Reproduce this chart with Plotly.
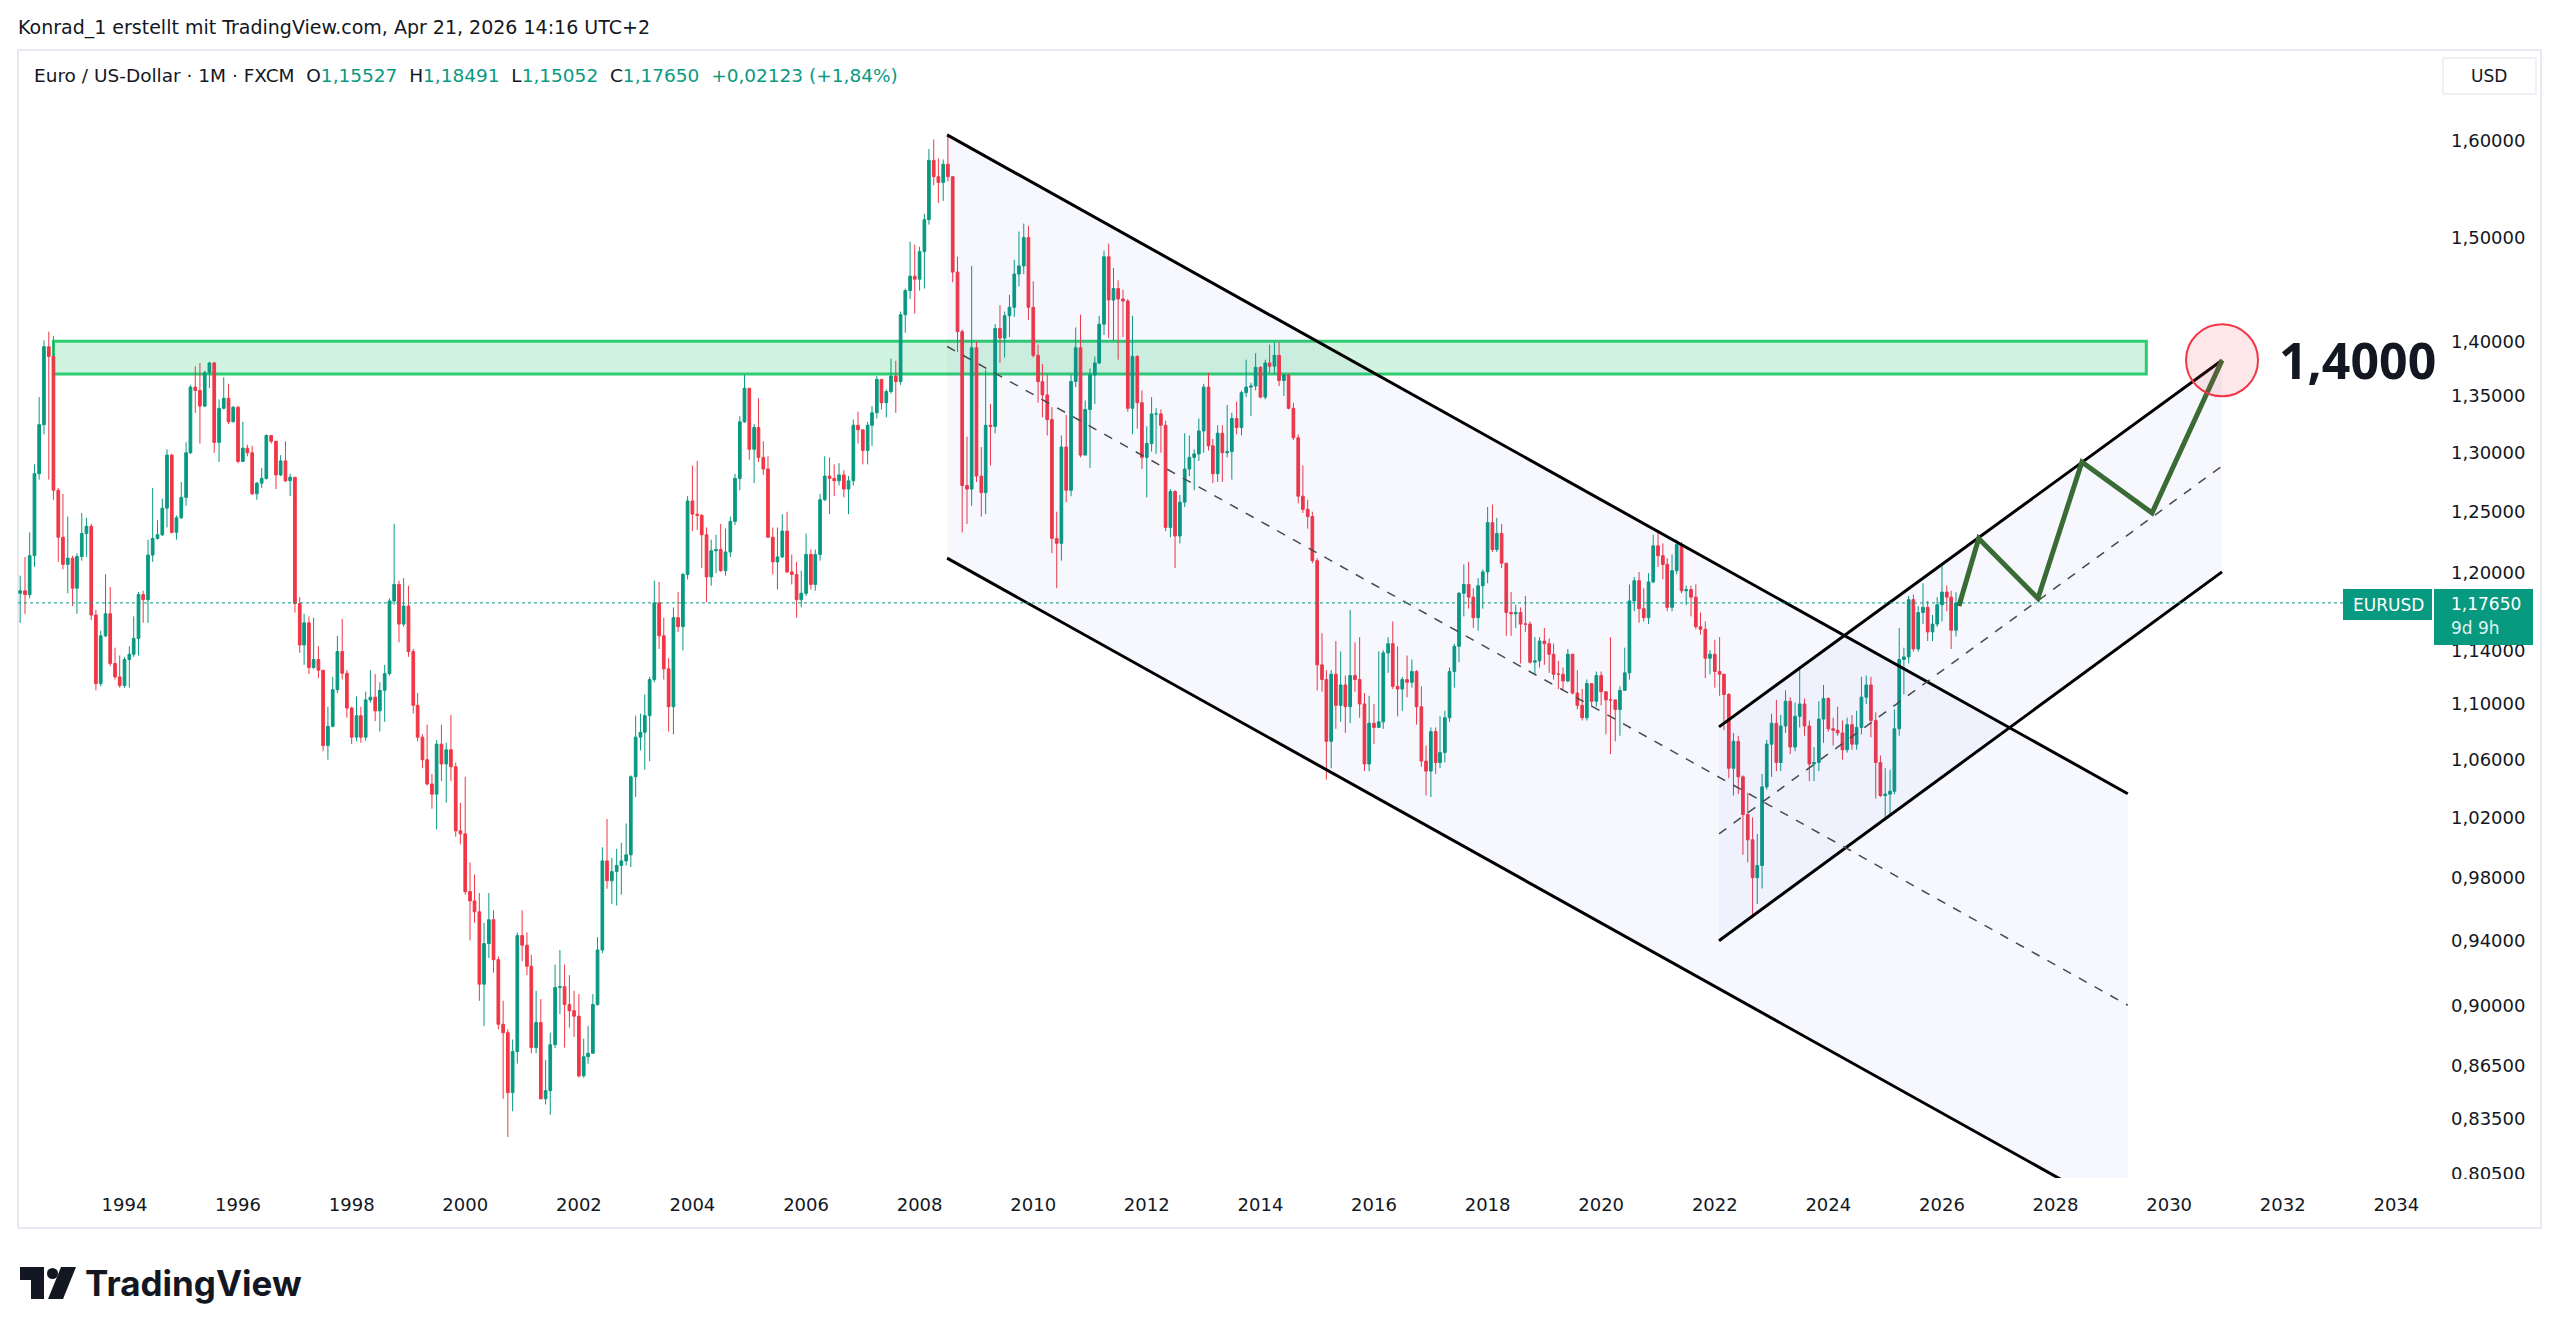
import math
import pandas as pd
import plotly.graph_objects as go

# ---------------- data (monthly EURUSD, FXCM) ----------------
start_month = "1992-03-01"
first_open = 1.184
closes = [
    1.186, 1.183, 1.214, 1.282, 1.3245, 1.395, 1.386, 1.268, 1.229, 1.207,
    1.212, 1.188, 1.2133, 1.232, 1.238, 1.167, 1.115, 1.151, 1.168, 1.130, 1.120, 1.1135,
    1.133, 1.137, 1.149, 1.183, 1.179, 1.2145, 1.228, 1.231, 1.253, 1.298, 1.233, 1.245,
    1.262, 1.300, 1.358, 1.355, 1.341, 1.371, 1.380, 1.309, 1.339, 1.348, 1.327, 1.340,
    1.2925, 1.304, 1.300, 1.265, 1.274, 1.278, 1.315, 1.310, 1.281, 1.293, 1.276, 1.279,
    1.176, 1.144, 1.161, 1.127, 1.133, 1.125, 1.070, 1.0838, 1.1105, 1.139, 1.1227, 1.097,
    1.076, 1.0915, 1.076, 1.103, 1.105, 1.095, 1.110, 1.1224, 1.178, 1.191, 1.160, 1.174,
    1.139, 1.099, 1.076, 1.060, 1.043, 1.036, 1.071, 1.057, 1.067, 1.055, 1.011, 1.009,
    0.971, 0.965, 0.958, 0.913, 0.938, 0.953, 0.928, 0.889, 0.884, 0.8495, 0.873, 0.943,
    0.937, 0.924, 0.8753, 0.890, 0.846, 0.8506, 0.877, 0.911, 0.9115, 0.9007, 0.897, 0.8938,
    0.859, 0.870, 0.872, 0.9007, 0.934, 0.991, 0.978, 0.984, 0.988, 0.991, 0.995, 1.048,
    1.076, 1.0795, 1.0915, 1.118, 1.1765, 1.151, 1.126, 1.098, 1.165, 1.158, 1.199, 1.259,
    1.248, 1.247, 1.231, 1.197, 1.218, 1.219, 1.202, 1.217, 1.242, 1.278, 1.327, 1.357,
    1.303, 1.322, 1.296, 1.286, 1.229, 1.209, 1.213, 1.234, 1.201, 1.199, 1.179, 1.184,
    1.215, 1.191, 1.215, 1.260, 1.280, 1.278, 1.276, 1.281, 1.269, 1.276, 1.324, 1.320,
    1.302, 1.324, 1.335, 1.365, 1.344, 1.354, 1.368, 1.363, 1.425, 1.448, 1.462, 1.459,
    1.486, 1.518, 1.579, 1.562, 1.556, 1.575, 1.562, 1.466, 1.409, 1.272, 1.269, 1.394,
    1.280, 1.266, 1.324, 1.323, 1.412, 1.403, 1.424, 1.432, 1.464, 1.472, 1.500, 1.432,
    1.387, 1.363, 1.351, 1.329, 1.228, 1.224, 1.305, 1.268, 1.363, 1.394, 1.298, 1.338,
    1.369, 1.380, 1.416, 1.481, 1.439, 1.450, 1.440, 1.438, 1.339, 1.386, 1.344, 1.296,
    1.308, 1.334, 1.334, 1.324, 1.237, 1.267, 1.230, 1.258, 1.286, 1.296, 1.299, 1.319,
    1.358, 1.306, 1.282, 1.317, 1.300, 1.301, 1.330, 1.322, 1.353, 1.358, 1.359, 1.376,
    1.349, 1.380, 1.377, 1.387, 1.364, 1.369, 1.339, 1.313, 1.263, 1.252, 1.246, 1.210,
    1.129, 1.118, 1.073, 1.122, 1.099, 1.114, 1.098, 1.121, 1.118, 1.100, 1.057, 1.086,
    1.083, 1.087, 1.138, 1.145, 1.113, 1.111, 1.118, 1.116, 1.124, 1.098, 1.059, 1.052,
    1.080, 1.058, 1.065, 1.090, 1.124, 1.143, 1.184, 1.191, 1.181, 1.165, 1.190, 1.201,
    1.241, 1.219, 1.232, 1.208, 1.169, 1.168, 1.169, 1.160, 1.160, 1.131, 1.132, 1.147,
    1.145, 1.137, 1.122, 1.122, 1.117, 1.137, 1.108, 1.099, 1.090, 1.115, 1.102, 1.121,
    1.109, 1.103, 1.103, 1.096, 1.110, 1.123, 1.178, 1.194, 1.172, 1.165, 1.193, 1.222,
    1.214, 1.207, 1.173, 1.202, 1.223, 1.186, 1.187, 1.181, 1.158, 1.156, 1.134, 1.137,
    1.124, 1.122, 1.107, 1.054, 1.073, 1.048, 1.022, 1.005, 0.980, 0.988, 1.041, 1.071,
    1.086, 1.058, 1.084, 1.102, 1.069, 1.091, 1.100, 1.084, 1.057, 1.058, 1.089, 1.104,
    1.082, 1.081, 1.079, 1.067, 1.085, 1.071, 1.083, 1.105, 1.114, 1.088, 1.058, 1.035,
    1.036, 1.038, 1.082, 1.133, 1.135, 1.179, 1.141, 1.169, 1.173, 1.154, 1.160, 1.175,
    1.185, 1.181, 1.1553, 1.1765,
]
highs = [
    1.198, 1.213, 1.233, 1.290, 1.349, 1.401, 1.409, 1.405, 1.270, 1.265,
    1.246, 1.214, 1.216, 1.249, 1.245, 1.240, 1.171, 1.155, 1.199, 1.189, 1.142, 1.136,
    1.135, 1.143, 1.166, 1.185, 1.186, 1.227, 1.270, 1.243, 1.261, 1.303, 1.299, 1.247,
    1.275, 1.309, 1.360, 1.377, 1.380, 1.373, 1.381, 1.381, 1.347, 1.367, 1.361, 1.341,
    1.341, 1.327, 1.307, 1.306, 1.275, 1.287, 1.316, 1.315, 1.310, 1.298, 1.310, 1.282,
    1.279, 1.181, 1.168, 1.166, 1.165, 1.143, 1.125, 1.098, 1.120, 1.151, 1.164, 1.125,
    1.098, 1.1055, 1.098, 1.109, 1.125, 1.122, 1.116, 1.129, 1.180, 1.240, 1.194, 1.196,
    1.190, 1.141, 1.108, 1.078, 1.085, 1.050, 1.074, 1.085, 1.072, 1.092, 1.058, 1.030,
    1.048, 0.990, 0.982, 0.970, 0.951, 0.970, 0.959, 0.930, 0.903, 0.886, 0.880, 0.945,
    0.959, 0.945, 0.931, 0.909, 0.904, 0.868, 0.884, 0.925, 0.934, 0.925, 0.9185, 0.909,
    0.907, 0.8805, 0.888, 0.907, 0.942, 1.000, 1.019, 0.993, 0.999, 1.003, 1.016, 1.049,
    1.0915, 1.093, 1.107, 1.120, 1.194, 1.193, 1.165, 1.134, 1.173, 1.185, 1.200, 1.263,
    1.289, 1.293, 1.248, 1.237, 1.227, 1.231, 1.240, 1.236, 1.246, 1.282, 1.332, 1.369,
    1.357, 1.325, 1.348, 1.310, 1.297, 1.237, 1.237, 1.248, 1.250, 1.215, 1.209, 1.202,
    1.232, 1.219, 1.219, 1.265, 1.297, 1.296, 1.290, 1.291, 1.285, 1.280, 1.329, 1.336,
    1.320, 1.327, 1.341, 1.368, 1.365, 1.356, 1.384, 1.382, 1.428, 1.450, 1.496, 1.493,
    1.491, 1.524, 1.591, 1.601, 1.581, 1.580, 1.604, 1.562, 1.481, 1.411, 1.314, 1.472,
    1.400, 1.305, 1.374, 1.343, 1.416, 1.434, 1.428, 1.444, 1.478, 1.506, 1.514, 1.512,
    1.457, 1.397, 1.379, 1.369, 1.340, 1.250, 1.315, 1.333, 1.369, 1.413, 1.425, 1.346,
    1.375, 1.386, 1.424, 1.487, 1.494, 1.470, 1.458, 1.449, 1.440, 1.424, 1.387, 1.355,
    1.323, 1.349, 1.339, 1.338, 1.328, 1.269, 1.268, 1.264, 1.317, 1.315, 1.303, 1.330,
    1.361, 1.371, 1.312, 1.324, 1.324, 1.342, 1.335, 1.345, 1.355, 1.383, 1.362, 1.389,
    1.377, 1.383, 1.397, 1.399, 1.399, 1.370, 1.370, 1.344, 1.316, 1.289, 1.260, 1.250,
    1.212, 1.153, 1.125, 1.125, 1.147, 1.139, 1.121, 1.171, 1.146, 1.150, 1.108, 1.106,
    1.100, 1.139, 1.140, 1.150, 1.162, 1.143, 1.120, 1.136, 1.133, 1.125, 1.113, 1.070,
    1.083, 1.083, 1.091, 1.095, 1.127, 1.145, 1.185, 1.207, 1.209, 1.188, 1.196, 1.203,
    1.254, 1.256, 1.245, 1.240, 1.208, 1.185, 1.175, 1.173, 1.182, 1.162, 1.150, 1.150,
    1.157, 1.149, 1.145, 1.132, 1.127, 1.141, 1.129, 1.125, 1.111, 1.118, 1.110, 1.124,
    1.124, 1.105, 1.150, 1.102, 1.113, 1.142, 1.191, 1.197, 1.201, 1.188, 1.200, 1.231,
    1.235, 1.224, 1.212, 1.215, 1.227, 1.225, 1.190, 1.190, 1.191, 1.169, 1.162, 1.140,
    1.148, 1.150, 1.118, 1.108, 1.079, 1.077, 1.049, 1.037, 1.020, 1.009, 1.050, 1.074,
    1.093, 1.103, 1.092, 1.110, 1.105, 1.101, 1.128, 1.104, 1.088, 1.069, 1.102, 1.114,
    1.105, 1.090, 1.098, 1.088, 1.090, 1.092, 1.095, 1.120, 1.121, 1.120, 1.094, 1.063,
    1.054, 1.053, 1.096, 1.157, 1.142, 1.182, 1.183, 1.174, 1.192, 1.178, 1.167, 1.181,
    1.208, 1.190, 1.186, 1.18491,
]
lows = [
    1.161, 1.168, 1.180, 1.205, 1.277, 1.316, 1.277, 1.260, 1.209, 1.203,
    1.184, 1.174, 1.168, 1.210, 1.213, 1.163, 1.110, 1.113, 1.150, 1.128, 1.118, 1.112,
    1.112, 1.112, 1.135, 1.136, 1.161, 1.161, 1.209, 1.227, 1.230, 1.237, 1.232, 1.227,
    1.244, 1.255, 1.299, 1.335, 1.308, 1.340, 1.357, 1.300, 1.292, 1.338, 1.325, 1.327,
    1.291, 1.292, 1.297, 1.264, 1.260, 1.270, 1.277, 1.308, 1.269, 1.280, 1.275, 1.263,
    1.169, 1.138, 1.129, 1.122, 1.126, 1.119, 1.066, 1.060, 1.083, 1.108, 1.118, 1.090,
    1.071, 1.073, 1.072, 1.0735, 1.101, 1.0875, 1.080, 1.087, 1.121, 1.175, 1.146, 1.158,
    1.135, 1.093, 1.073, 1.054, 1.042, 1.026, 1.012, 1.045, 1.030, 1.045, 1.007, 1.002,
    0.969, 0.940, 0.951, 0.903, 0.888, 0.929, 0.920, 0.886, 0.846, 0.8248, 0.839, 0.866,
    0.927, 0.9185, 0.872, 0.872, 0.8457, 0.8428, 0.837, 0.875, 0.895, 0.8753, 0.887, 0.8815,
    0.858, 0.858, 0.866, 0.872, 0.900, 0.932, 0.9728, 0.963, 0.962, 0.969, 0.988, 0.987,
    1.034, 1.0665, 1.053, 1.059, 1.116, 1.141, 1.118, 1.080, 1.078, 1.154, 1.140, 1.195,
    1.234, 1.235, 1.204, 1.177, 1.190, 1.200, 1.201, 1.198, 1.213, 1.239, 1.268, 1.326,
    1.294, 1.274, 1.292, 1.281, 1.229, 1.199, 1.187, 1.212, 1.200, 1.191, 1.165, 1.173,
    1.182, 1.187, 1.186, 1.210, 1.259, 1.248, 1.263, 1.272, 1.262, 1.248, 1.272, 1.308,
    1.290, 1.290, 1.306, 1.330, 1.338, 1.331, 1.352, 1.335, 1.360, 1.408, 1.440, 1.426,
    1.448, 1.450, 1.513, 1.553, 1.535, 1.537, 1.557, 1.456, 1.390, 1.233, 1.240, 1.255,
    1.275, 1.246, 1.248, 1.289, 1.317, 1.380, 1.385, 1.404, 1.423, 1.452, 1.464, 1.420,
    1.385, 1.344, 1.331, 1.315, 1.216, 1.188, 1.210, 1.258, 1.263, 1.358, 1.296, 1.303,
    1.287, 1.343, 1.379, 1.406, 1.403, 1.401, 1.383, 1.404, 1.336, 1.316, 1.321, 1.286,
    1.262, 1.301, 1.299, 1.300, 1.234, 1.229, 1.204, 1.224, 1.254, 1.280, 1.268, 1.293,
    1.300, 1.302, 1.274, 1.275, 1.275, 1.296, 1.277, 1.316, 1.315, 1.349, 1.332, 1.355,
    1.348, 1.347, 1.371, 1.370, 1.359, 1.350, 1.338, 1.311, 1.257, 1.249, 1.236, 1.208,
    1.110, 1.109, 1.046, 1.054, 1.082, 1.087, 1.079, 1.086, 1.109, 1.090, 1.052, 1.052,
    1.071, 1.084, 1.082, 1.123, 1.111, 1.091, 1.095, 1.105, 1.112, 1.085, 1.055, 1.035,
    1.034, 1.050, 1.054, 1.058, 1.087, 1.112, 1.131, 1.166, 1.172, 1.157, 1.155, 1.172,
    1.192, 1.217, 1.217, 1.204, 1.151, 1.151, 1.157, 1.130, 1.154, 1.130, 1.122, 1.127,
    1.129, 1.123, 1.118, 1.111, 1.111, 1.116, 1.107, 1.096, 1.088, 1.088, 1.098, 1.098,
    1.099, 1.078, 1.064, 1.073, 1.077, 1.110, 1.118, 1.170, 1.161, 1.162, 1.160, 1.192,
    1.205, 1.195, 1.170, 1.170, 1.199, 1.184, 1.175, 1.166, 1.156, 1.152, 1.119, 1.122,
    1.112, 1.106, 1.081, 1.047, 1.035, 1.036, 0.995, 0.990, 0.954, 0.963, 0.973, 1.039,
    1.048, 1.052, 1.052, 1.079, 1.064, 1.066, 1.083, 1.077, 1.045, 1.045, 1.052, 1.072,
    1.080, 1.070, 1.077, 1.060, 1.065, 1.067, 1.067, 1.078, 1.100, 1.076, 1.033, 1.034,
    1.018, 1.021, 1.036, 1.077, 1.107, 1.130, 1.139, 1.139, 1.160, 1.147, 1.147, 1.158,
    1.162, 1.170, 1.141, 1.15052,
]

y_tick_vals = [1.60, 1.50, 1.40, 1.35, 1.30, 1.25, 1.20, 1.14, 1.10, 1.06, 1.02,
               0.98, 0.94, 0.90, 0.865, 0.835, 0.805]
y_tick_text = ["1,60000", "1,50000", "1,40000", "1,35000", "1,30000", "1,25000",
               "1,20000", "1,14000", "1,10000", "1,06000", "1,02000", "0,98000",
               "0,94000", "0,90000", "0,86500", "0,83500", "0,80500"]
x_tick_years = list(range(1994, 2035, 2))

zone_dates = ["1992-10-01", "2029-08-07"]
zone_prices = [1.370, 1.400]

desc_dates = ["2008-06-26", "2029-04-10"]
desc_upper = [1.606, 1.0363]
desc_lower = [1.212, 0.7822]
desc_mid = [1.3952, 0.9003]

asc_dates = ["2022-01-28", "2030-12-07"]
asc_upper = [1.0834, 1.3825]
asc_lower = [0.9398, 1.201]
asc_mid = [1.009, 1.2886]

path_dates = ["2026-04-20", "2026-08-25", "2027-09-10", "2028-06-19", "2029-09-13", "2030-12-07"]
path_prices = [1.174, 1.228, 1.180, 1.292, 1.249, 1.3825]

target_date, target_price, target_label = "2030-12-07", 1.3825, "1,4000"
last_price, last_price_text, countdown_text = 1.1765, "1,17650", "9d 9h"
symbol_text = "EURUSD"
header_text = "Konrad_1 erstellt mit TradingView.com, Apr 21, 2026 14:16 UTC+2"
title_text = "Euro / US-Dollar · 1M · FXCM"
ohlc_labels = ["O", "H", "L", "C"]
ohlc_values = ["1,15527", "1,18491", "1,15052", "1,17650"]
change_text = "+0,02123 (+1,84%)"

# ---------------- layout geometry ----------------
W, H = 2560, 1335
PL, PR, PT, PB = 18, 2436, 52, 1178
UP, DN, TEAL = "#089981", "#F23645", "#089981"
TXT = "#131722"
UI_FONT = "DejaVu Sans"


def px(x):
    return (x - PL) / (PR - PL)


def py(y):
    return (PB - y) / (PB - PT)


dates = pd.date_range(start_month, periods=len(closes), freq="MS")
opens = [first_open] + closes[:-1]

fig = go.Figure()

chan_fill = "rgba(70,90,230,0.045)"
for d, u, l in [(desc_dates, desc_upper, desc_lower), (asc_dates, asc_upper, asc_lower)]:
    fig.add_trace(go.Scatter(
        x=[d[0], d[1], d[1], d[0], d[0]], y=[u[0], u[1], l[1], l[0], u[0]],
        mode="none", fill="toself", fillcolor=chan_fill, hoverinfo="skip", showlegend=False))

fig.add_trace(go.Candlestick(
    x=dates, open=opens, high=highs, low=lows, close=closes,
    increasing=dict(line=dict(color=UP, width=1), fillcolor=UP),
    decreasing=dict(line=dict(color=DN, width=1), fillcolor=DN),
    whiskerwidth=0, showlegend=False, hoverinfo="skip"))

for d, ys in [(desc_dates, desc_upper), (desc_dates, desc_lower), (asc_dates, asc_upper), (asc_dates, asc_lower)]:
    fig.add_trace(go.Scatter(x=d, y=ys, mode="lines", line=dict(color="#000000", width=3),
                             hoverinfo="skip", showlegend=False))
for d, ys in [(desc_dates, desc_mid), (asc_dates, asc_mid)]:
    fig.add_trace(go.Scatter(x=d, y=ys, mode="lines", line=dict(color="#4a4a4a", width=1.5, dash="dash"),
                             hoverinfo="skip", showlegend=False))

fig.add_trace(go.Scatter(x=path_dates, y=path_prices, mode="lines",
                         line=dict(color="#3a6b35", width=5), hoverinfo="skip", showlegend=False))

# target circle (marker sized in pixels)
fig.add_trace(go.Scatter(x=[target_date], y=[target_price], mode="markers",
                         marker=dict(symbol="circle", size=72, color="rgba(242,54,69,0.12)",
                                     line=dict(color="#F23645", width=2)),
                         hoverinfo="skip", showlegend=False, cliponaxis=False))

shapes = []
shapes.append(dict(type="rect", xref="paper", yref="paper", x0=px(18), x1=px(2541), y0=py(50), y1=py(1228),
                   line=dict(color="#e0e3eb", width=1.5), fillcolor="rgba(0,0,0,0)", layer="below"))
shapes.append(dict(type="rect", xref="x", yref="y", x0=zone_dates[0], x1=zone_dates[1],
                   y0=zone_prices[0], y1=zone_prices[1], fillcolor="rgba(46,204,113,0.22)",
                   line=dict(color="#2ecc71", width=3), layer="below"))
shapes.append(dict(type="line", xref="paper", yref="y", x0=0, x1=px(2343), y0=last_price, y1=last_price,
                   line=dict(color=TEAL, width=1, dash="dot"), layer="above"))
shapes.append(dict(type="rect", xref="paper", yref="paper", x0=px(2437), x1=px(2540), y0=py(1196), y1=py(1179),
                   fillcolor="white", line=dict(width=0), layer="above"))
shapes.append(dict(type="rect", xref="paper", yref="paper", x0=px(2343), x1=px(2432), y0=py(620), y1=py(589),
                   fillcolor=TEAL, line=dict(width=0), layer="above"))
shapes.append(dict(type="rect", xref="paper", yref="paper", x0=px(2434), x1=px(2533), y0=py(645), y1=py(589),
                   fillcolor=TEAL, line=dict(width=0), layer="above"))
shapes.append(dict(type="rect", xref="paper", yref="paper", x0=px(2443), x1=px(2536), y0=py(94), y1=py(58),
                   fillcolor="white", line=dict(color="#e0e3eb", width=1), layer="above"))
# TradingView logo icon
shapes.append(dict(type="rect", xref="paper", yref="paper", x0=px(20), x1=px(44), y0=py(1280), y1=py(1267),
                   fillcolor=TXT, line=dict(width=0), layer="above"))
shapes.append(dict(type="rect", xref="paper", yref="paper", x0=px(31), x1=px(44), y0=py(1299), y1=py(1267),
                   fillcolor=TXT, line=dict(width=0), layer="above"))
shapes.append(dict(type="circle", xref="paper", yref="paper", x0=px(47), x1=px(58), y0=py(1279), y1=py(1268),
                   fillcolor=TXT, line=dict(width=0), layer="above"))
shapes.append(dict(type="path", xref="paper", yref="paper",
                   path=f"M {px(61)},{py(1267)} L {px(76)},{py(1267)} L {px(63)},{py(1299)} L {px(48)},{py(1299)} Z",
                   fillcolor=TXT, line=dict(width=0), layer="above"))

annotations = []


def ann(x, y, text, size=17, color=TXT, xanchor="left", family=UI_FONT):
    annotations.append(dict(xref="paper", yref="paper", x=px(x), y=py(y), text=text, showarrow=False,
                            xanchor=xanchor, yanchor="middle", font=dict(family=family, size=size, color=color)))


nb = "\u00a0"
legend = title_text + nb * 2
for lab, val in zip(ohlc_labels, ohlc_values):
    legend += f"{lab}<span style='color:{TEAL}'>{val}</span>{nb * 2}"
legend += f"<span style='color:{TEAL}'>{change_text}</span>"

ann(16, 28, header_text, size=19)
ann(32, 75, legend, size=18.5)
ann(2489, 76, "USD", size=17, xanchor="center")
ann(2277, 360, f"<b>{target_label}</b>", size=50, family="Noto Sans")
ann(2388, 605, symbol_text, size=17, color="white", xanchor="center")
ann(2449, 604, last_price_text, size=17, color="white")
ann(2449, 628, countdown_text, size=17, color="rgba(255,255,255,0.9)")
ann(83, 1283, "<b>TradingView</b>", size=35, family="Inter")

fig.update_layout(
    width=W, height=H,
    margin=dict(l=PL, r=W - PR, t=PT, b=H - PB),
    paper_bgcolor="white", plot_bgcolor="white",
    showlegend=False, shapes=shapes, annotations=annotations,
    boxgap=0.12,
    xaxis=dict(type="date", range=["1992-02-16", "2034-09-13"],
               tickvals=[f"{y}-01-01" for y in x_tick_years], ticktext=[str(y) for y in x_tick_years],
               showgrid=False, zeroline=False, showline=False, ticks="",
               tickfont=dict(family=UI_FONT, size=18, color=TXT), ticklabelstandoff=14,
               rangeslider=dict(visible=False), fixedrange=True),
    yaxis=dict(type="log", range=[math.log10(0.8026), math.log10(1.697)], side="right",
               tickvals=y_tick_vals, ticktext=y_tick_text,
               showgrid=False, zeroline=False, showline=False, ticks="",
               tickfont=dict(family=UI_FONT, size=18, color=TXT), ticklabelstandoff=14,
               fixedrange=True),
)

fig.write_html("out.html", config={"displayModeBar": False})
